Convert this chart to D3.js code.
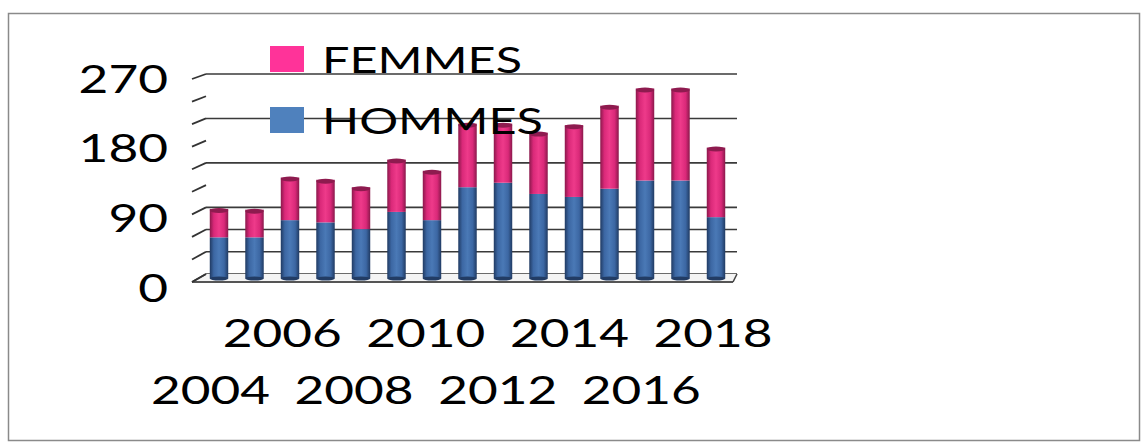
<!DOCTYPE html>
<html><head><meta charset="utf-8">
<script src="https://cdn.jsdelivr.net/npm/d3@7"></script>
<style>html,body{margin:0;padding:0;background:#fff;}svg{display:block;}</style>
</head><body>
<svg id="c" width="1141" height="443"></svg>
<script>
const years = [2004,2005,2006,2007,2008,2009,2010,2011,2012,2013,2014,2015,2016,2017,2018];
const hommes = [55,55,78,75,66,89,78,122,128,113,109,120,131,131,82];
const femmes = [38,37,57,57,56,70,66,85,79,82,96,111,123,123,93];
const yTickLabels = [0,90,180,270];
const minorTicks = [0,30,60,90,120,150,180,210,240,270];
const gridValues = [0,30,60,90,150,210,270];
const xLabelYears = [2004,2006,2008,2010,2012,2014,2016,2018];
const seriesNames = ["FEMMES","HOMMES"];

const svg = d3.select("#c");
const font = "Lato, 'Open Sans', sans-serif";

// border
svg.append("rect").attr("x",8.5).attr("y",13.5).attr("width",1131).attr("height",427)
  .attr("fill","none").attr("stroke","#8a8a8a").attr("stroke-width",1.5);

// scales
const xBar = d3.scaleBand().domain(years).range([201.25,733.75]).paddingInner(0.48).paddingOuter(0.24);
const xFront = d3.scaleBand().domain(years).range([192.5,731]);
const yBar = d3.scaleLinear().domain([0,270]).range([278.5,76.5]);
const yBack = d3.scaleLinear().domain([0,270]).range([274,74]);
const yFront = d3.scaleLinear().domain([0,270]).range([282,79]);
const yLabel = d3.scaleLinear().domain([0,270]).range([301.5,92.5]);

// back wall gridlines
svg.append("g").selectAll("line").data(gridValues).join("line")
  .attr("x1",206).attr("x2",737)
  .attr("y1",d=>yBack(d)).attr("y2",d=>yBack(d))
  .attr("stroke","#3a3a3a").attr("stroke-width",1.6);

// floor
svg.append("path")
  .attr("d",`M192,${yFront(0)} L733,${yFront(0)} L737,${yBack(0)} L206,${yBack(0)} Z`)
  .attr("fill","#f4f4f4").attr("stroke","none");
svg.append("line").attr("x1",192).attr("x2",733).attr("y1",yFront(0)).attr("y2",yFront(0))
  .attr("stroke","#555").attr("stroke-width",2);
svg.append("line").attr("x1",733).attr("x2",737).attr("y1",yFront(0)).attr("y2",yBack(0))
  .attr("stroke","#444").attr("stroke-width",1.6);
svg.append("line").attr("x1",192).attr("x2",206).attr("y1",yFront(0)).attr("y2",yBack(0))
  .attr("stroke","#444").attr("stroke-width",1.6);

// left axis slanted ticks
svg.append("g").selectAll("line").data(minorTicks).join("line")
  .attr("x1",192).attr("x2",206)
  .attr("y1",d=>yFront(d)).attr("y2",d=>yBack(d))
  .attr("stroke","#333").attr("stroke-width",1.8);

// gradients
const defs = svg.append("defs");
function grad(id, edge, mid, center){
  const g = defs.append("linearGradient").attr("id",id).attr("x1","0%").attr("x2","100%");
  [[0,edge],[0.22,mid],[0.5,center],[0.78,mid],[1,edge]].forEach(([o,c])=>
    g.append("stop").attr("offset",o).attr("stop-color",c));
}
grad("gBlue","#203a62","#3c67a3","#4a79b6");
grad("gPink","#8a184b","#da2979","#ee3a8a");

const bw = xBar.bandwidth();
const bars = svg.append("g");
bars.selectAll("rect.h").data(years).join("rect").attr("class","h")
  .attr("x",d=>xBar(d)).attr("width",bw)
  .attr("y",(d,i)=>yBar(hommes[i])).attr("height",(d,i)=>yBar(0)-yBar(hommes[i]))
  .attr("fill","url(#gBlue)");
bars.selectAll("rect.f").data(years).join("rect").attr("class","f")
  .attr("x",d=>xBar(d)).attr("width",bw)
  .attr("y",(d,i)=>yBar(hommes[i]+femmes[i]))
  .attr("height",(d,i)=>yBar(hommes[i])-yBar(hommes[i]+femmes[i]))
  .attr("fill","url(#gPink)");
bars.selectAll("ellipse.t").data(years).join("ellipse").attr("class","t")
  .attr("cx",d=>xBar(d)+bw/2).attr("rx",bw/2)
  .attr("cy",(d,i)=>yBar(hommes[i]+femmes[i])+1.5).attr("ry",2.5)
  .attr("fill","#8e1b4f");
bars.selectAll("ellipse.b").data(years).join("ellipse").attr("class","b")
  .attr("cx",d=>xBar(d)+bw/2).attr("rx",bw/2)
  .attr("cy",yBar(0)).attr("ry",2)
  .attr("fill","#223c64");

// y labels
svg.append("g").selectAll("text").data(yTickLabels).join("text")
  .attr("x",168).attr("y",d=>yLabel(d))
  .attr("text-anchor","end")
  .attr("font-family",font).attr("font-size",39).attr("fill","#000")
  .attr("textLength",d=>String(d).length*29.8).attr("lengthAdjust","spacingAndGlyphs")
  .text(d=>d);

// x labels (staggered)
svg.append("g").selectAll("text").data(xLabelYears).join("text")
  .attr("x",d=>xFront(d)+xFront.bandwidth()/2 - 59.5)
  .attr("y",(d,i)=> i%2===0 ? 404 : 347)
  .attr("font-family",font).attr("font-size",39).attr("fill","#000")
  .attr("textLength",119).attr("lengthAdjust","spacingAndGlyphs")
  .text(d=>d);

// legend
const legColors = ["#ff3399","#4f81bd"];
const legY = [46,107];
const legLen = [200,221];
const leg = svg.append("g");
seriesNames.forEach((n,i)=>{
  leg.append("rect").attr("x",270).attr("y",legY[i]).attr("width",34).attr("height",26).attr("fill",legColors[i]);
  leg.append("text").attr("x",322).attr("y",legY[i]+26.5)
    .attr("font-family",font).attr("font-size",37).attr("fill","#000")
    .attr("textLength",legLen[i]).attr("lengthAdjust","spacingAndGlyphs")
    .text(n);
});
</script>
</body></html>
